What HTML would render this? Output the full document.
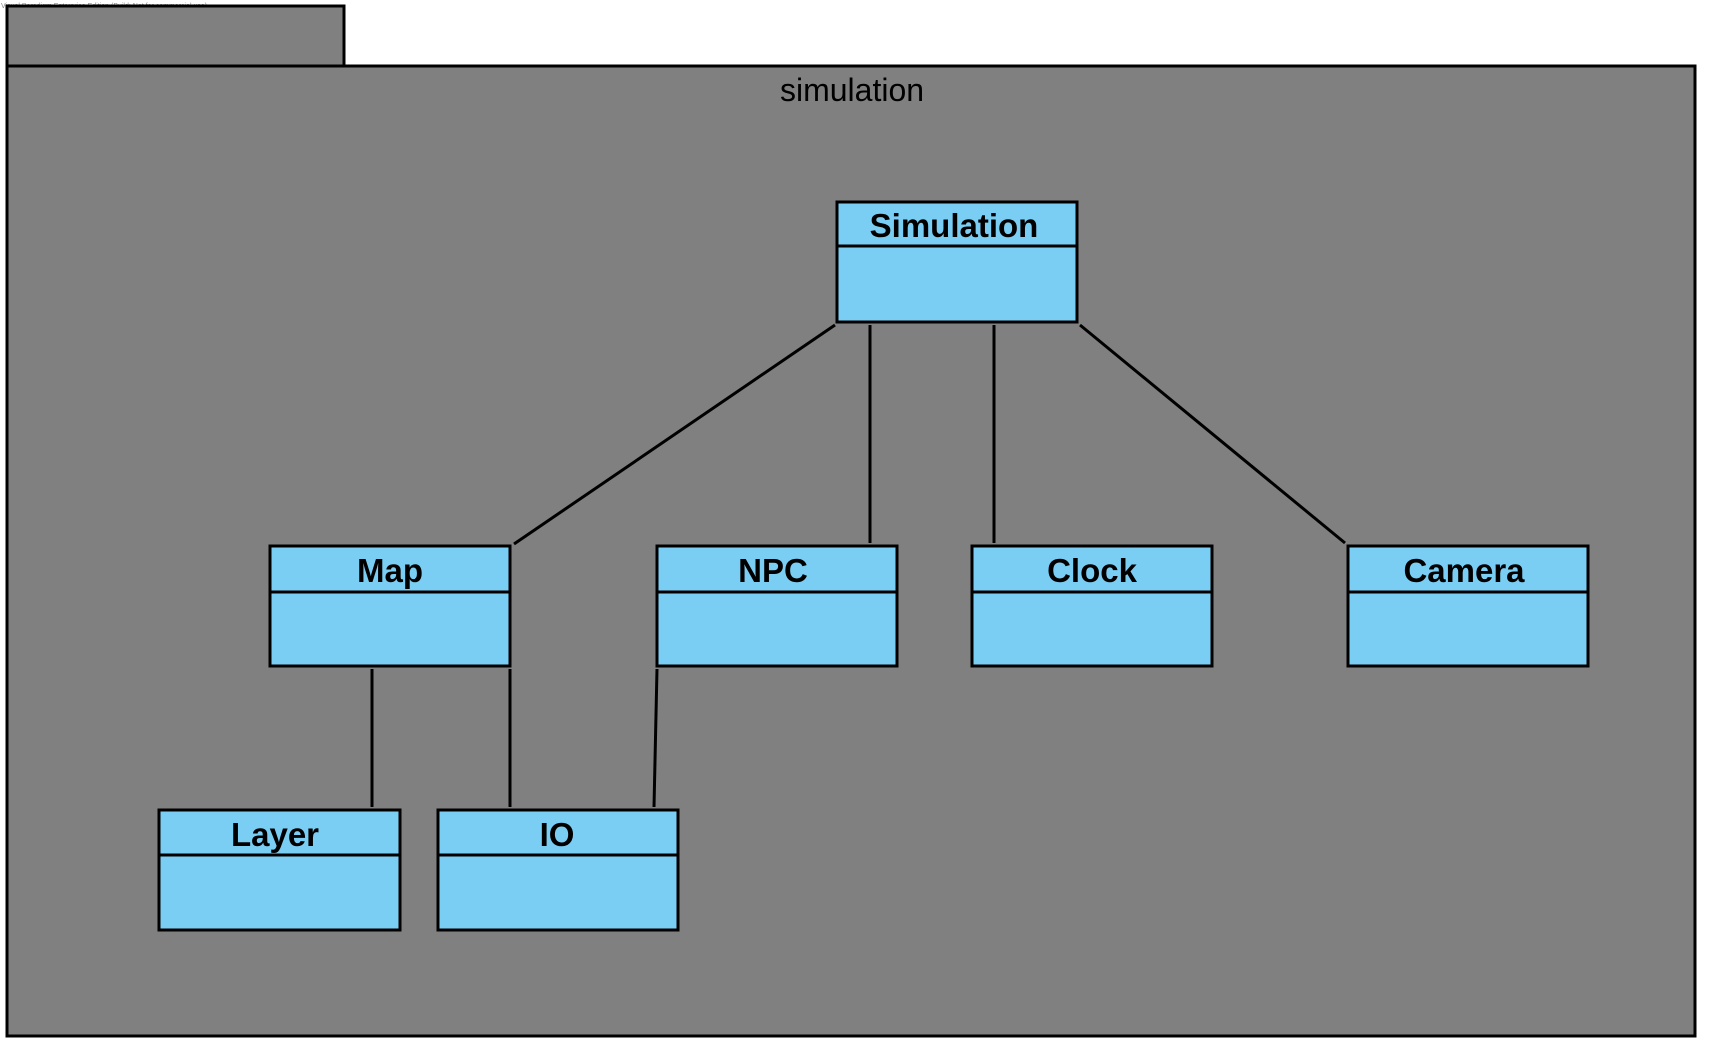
<!DOCTYPE html>
<html><head><meta charset="utf-8"><style>
html,body{margin:0;padding:0;background:#fff;width:1710px;height:1050px;overflow:hidden}
svg{display:block}
text{font-family:"Liberation Sans",Arial,sans-serif}
</style></head><body>
<svg width="1710" height="1050" viewBox="0 0 1710 1050">
<text x="1" y="8" font-size="7" fill="#888">Visual Paradigm Enterprise Edition (Build: Not for commercial use)</text>
<rect x="7" y="6" width="337" height="60" fill="#808080" stroke="#000" stroke-width="3"/>
<rect x="7" y="66" width="1688" height="970" fill="#808080" stroke="#000" stroke-width="3"/>
<text x="852" y="101" font-size="32" text-anchor="middle" fill="#000">simulation</text>
<g stroke="#000" stroke-width="3" fill="none">
<line x1="835" y1="325" x2="514" y2="544"/>
<line x1="870" y1="325" x2="870" y2="543"/>
<line x1="994" y1="325" x2="994" y2="543"/>
<line x1="1080" y1="325" x2="1345" y2="543"/>
<line x1="372" y1="669" x2="372" y2="807"/>
<line x1="510" y1="669" x2="510" y2="807"/>
<line x1="657" y1="669" x2="654" y2="807"/>
</g>
<g stroke="#000" stroke-width="3" fill="#7acef4">
<rect x="837" y="202" width="240" height="120"/><line x1="837" y1="246" x2="1077" y2="246"/>
<rect x="270" y="546" width="240" height="120"/><line x1="270" y1="592" x2="510" y2="592"/>
<rect x="657" y="546" width="240" height="120"/><line x1="657" y1="592" x2="897" y2="592"/>
<rect x="972" y="546" width="240" height="120"/><line x1="972" y1="592" x2="1212" y2="592"/>
<rect x="1348" y="546" width="240" height="120"/><line x1="1348" y1="592" x2="1588" y2="592"/>
<rect x="159" y="810" width="241" height="120"/><line x1="159" y1="855" x2="400" y2="855"/>
<rect x="438" y="810" width="240" height="120"/><line x1="438" y1="855" x2="678" y2="855"/>
</g>
<g font-size="33" font-weight="bold" text-anchor="middle" fill="#000">
<text x="954" y="237">Simulation</text>
<text x="390" y="582">Map</text>
<text x="773" y="582">NPC</text>
<text x="1092" y="582">Clock</text>
<text x="1464" y="582">Camera</text>
<text x="275" y="846">Layer</text>
<text x="557" y="846">IO</text>
</g>
</svg>
</body></html>
